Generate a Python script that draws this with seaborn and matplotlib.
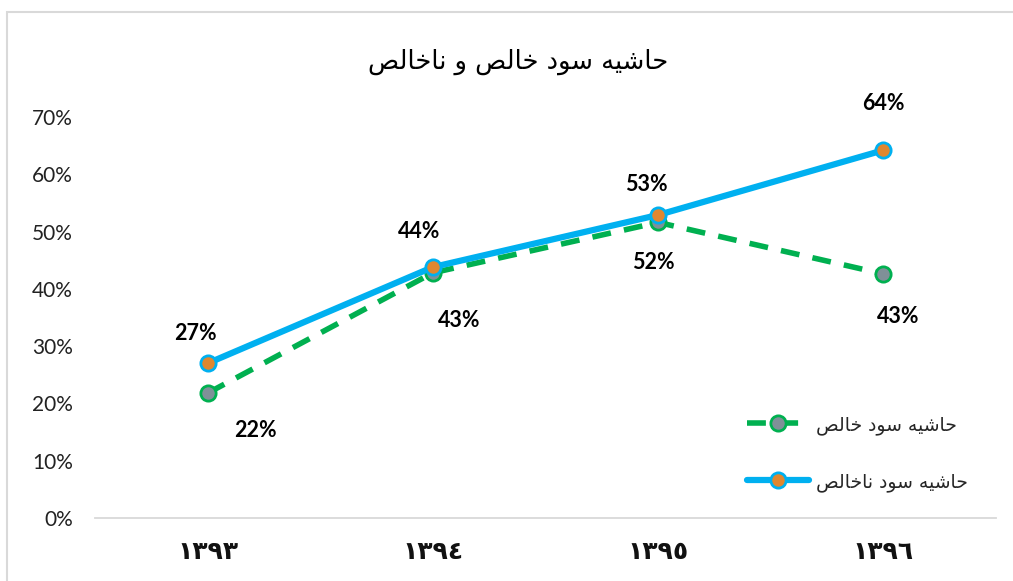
import matplotlib
matplotlib.use("Agg")
import matplotlib.pyplot as plt
import seaborn as sns
import pandas as pd
from matplotlib.patches import Rectangle

# ---------------- data ----------------
years = ["١٣٩٣", "١٣٩٤", "١٣٩٥", "١٣٩٦"]
net_margin = [0.218, 0.428, 0.516, 0.426]      # حاشیه سود خالص
gross_margin = [0.270, 0.438, 0.529, 0.642]    # حاشیه سود ناخالص
net_name = "حاشیه سود خالص"
gross_name = "حاشیه سود ناخالص"
title_text = "حاشیه سود خالص و ناخالص"
y_ticks = [0.0, 0.1, 0.2, 0.3, 0.4, 0.5, 0.6, 0.7]

# ---------------- simple Arabic/Persian shaping ----------------
FORMS = {
    "\u0627": ("\uFE8D", "\uFE8E", None, None),
    "\u062D": ("\uFEA1", "\uFEA2", "\uFEA3", "\uFEA4"),
    "\u062E": ("\uFEA5", "\uFEA6", "\uFEA7", "\uFEA8"),
    "\u062F": ("\uFEA9", "\uFEAA", None, None),
    "\u0633": ("\uFEB1", "\uFEB2", "\uFEB3", "\uFEB4"),
    "\u0634": ("\uFEB5", "\uFEB6", "\uFEB7", "\uFEB8"),
    "\u0635": ("\uFEB9", "\uFEBA", "\uFEBB", "\uFEBC"),
    "\u0644": ("\uFEDD", "\uFEDE", "\uFEDF", "\uFEE0"),
    "\u0646": ("\uFEE5", "\uFEE6", "\uFEE7", "\uFEE8"),
    "\u0647": ("\uFEE9", "\uFEEA", "\uFEEB", "\uFEEC"),
    "\u0648": ("\uFEED", "\uFEEE", None, None),
    "\u06CC": ("\uFEEF", "\uFEF0", "\uFEF3", "\uFEF4"),
    "\u064A": ("\uFEF1", "\uFEF2", "\uFEF3", "\uFEF4"),
}


def _dual(c):
    f = FORMS.get(c)
    return f is not None and f[2] is not None


def shape(text):
    out = []
    n = len(text)
    for i, c in enumerate(text):
        if c not in FORMS:
            out.append(c)
            continue
        prev = text[i - 1] if i > 0 else ""
        nxt = text[i + 1] if i < n - 1 else ""
        join_prev = _dual(prev)
        join_next = _dual(c) and nxt in FORMS
        iso, fin, ini, med = FORMS[c]
        if join_prev and join_next:
            out.append(med)
        elif join_prev:
            out.append(fin)
        elif join_next:
            out.append(ini)
        else:
            out.append(iso)
    return "".join(out)[::-1]


# ---------------- plot ----------------
sns.set_theme(style="white")
plt.rcParams["font.family"] = ["DejaVu Sans"]

W, H, DPI = 1013, 581, 100
fig = plt.figure(figsize=(W / DPI, H / DPI), dpi=DPI)
ax = fig.add_axes([95 / W, 1 - 518 / H, (996 - 95) / W, (518 - 117) / H])

df = pd.DataFrame({"x": list(range(len(years))), "net": net_margin, "gross": gross_margin})

green = "#00B050"
blue = "#00B0F0"
sns.lineplot(data=df, x="x", y="net", ax=ax, color=green, linewidth=4,
             linestyle=(0, (3.4, 2.4)), marker="o", markersize=11,
             markerfacecolor="#7F9098", markeredgecolor=green, markeredgewidth=2,
             label=shape(net_name), zorder=3)
sns.lineplot(data=df, x="x", y="gross", ax=ax, color=blue, linewidth=4.5,
             marker="o", markersize=11,
             markerfacecolor="#E0872F", markeredgecolor=blue, markeredgewidth=2,
             label=shape(gross_name), zorder=4)

# data labels
gross_off = [(-12, 30), (-14, 36), (-12, 30), (0, 47)]
net_off = [(48, -37), (26, -48), (-5, -40), (15, -43)]
for i in range(len(years)):
    ax.annotate(f"{round(gross_margin[i] * 100):.0f}%", (i, gross_margin[i]),
                xytext=gross_off[i], textcoords="offset pixels", ha="center",
                va="center", fontsize=15.5, fontweight="bold", family="Lato", color="black")
    ax.annotate(f"{round(net_margin[i] * 100):.0f}%", (i, net_margin[i]),
                xytext=net_off[i], textcoords="offset pixels", ha="center",
                va="center", fontsize=15.5, fontweight="bold", family="Lato", color="black")

ax.set_xlim(-0.5, len(years) - 0.5)
ax.set_ylim(0, 0.7)
ax.set_yticks(y_ticks)
ax.set_yticklabels([f"{int(round(t * 100))}%" for t in y_ticks], fontsize=15,
                   family="Lato", color="#222222")
ax.set_xticks(range(len(years)))
ax.set_xticklabels(years, fontsize=18, fontweight="bold", color="#111111")
ax.tick_params(axis="x", pad=16, length=0)
ax.tick_params(axis="y", pad=16, length=0)
ax.set_xlabel("")
ax.set_ylabel("")
for s in ["top", "right", "left"]:
    ax.spines[s].set_visible(False)
ax.spines["bottom"].set_color("#D9D9D9")
ax.spines["bottom"].set_linewidth(1.3)
ax.grid(False)

fig.text((373 + 663) / 2 / W, 1 - 62 / H, shape(title_text), ha="center", va="center",
         fontsize=18.5, color="black")

leg = ax.legend(loc="upper left", bbox_to_anchor=(730 / W, 1 - 398 / H),
                bbox_transform=fig.transFigure, frameon=False, fontsize=13.5,
                handlelength=3.3, labelspacing=2.0, handletextpad=0.4)

fig.patches.append(Rectangle((7 / W, -0.05), 1.1, 1 - 12 / H + 0.05,
                             transform=fig.transFigure, fill=False,
                             edgecolor="#D9D9D9", linewidth=1.5))

fig.savefig("out.png", dpi=DPI)
